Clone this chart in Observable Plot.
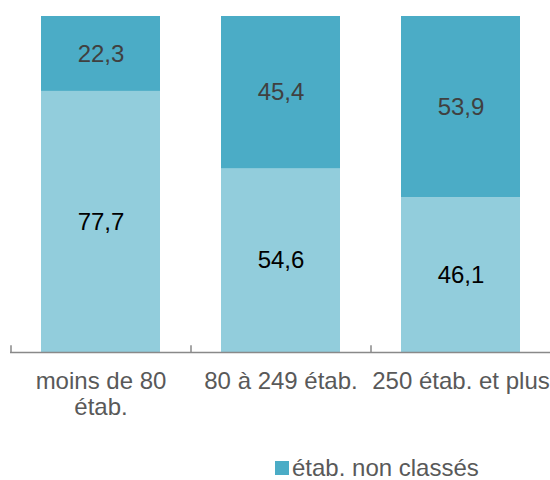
<!DOCTYPE html>
<html>
<head>
<meta charset="utf-8">
<script src="https://cdn.jsdelivr.net/npm/d3@7"></script>
<script src="https://cdn.jsdelivr.net/npm/@observablehq/plot@0.6"></script>
<style>
  body { margin: 0; background: #fff; font-family: "Liberation Sans", Arial, sans-serif; }
  #chart { width: 550px; }
  .legend { display: flex; align-items: center; margin-left: 275px; margin-top: 26px; font-size: 24px; line-height: 20px; color: #595959; }
  .legend .sw { width: 14px; height: 14px; background: #4BACC6; margin-right: 3px; }
</style>
</head>
<body>
<div id="chart"></div>
<script>
const categories = ["moins de 80 étab.", "80 à 249 étab.", "250 étab. et plus"];
const tickLabels = ["moins de 80\nétab.", "80 à 249 étab.", "250 étab. et plus"];
const series = ["étab. classés", "étab. non classés"];
const classes = [77.7, 54.6, 46.1];
const nonClasses = [22.3, 45.4, 53.9];
const colors = ["#92CDDC", "#4BACC6"];
const textColors = ["#000000", "#404040"];

const data = [];
categories.forEach((c, i) => {
  data.push({cat: c, series: series[0], value: classes[i]});
  data.push({cat: c, series: series[1], value: nonClasses[i]});
});

const H = 432;
const plot = Plot.plot({
  width: 550,
  height: H,
  marginTop: 16,
  marginBottom: H - 352,
  marginLeft: 10,
  marginRight: 0,
  style: {fontFamily: "'Liberation Sans', Arial, sans-serif", background: "#fff"},
  x: {domain: categories, paddingInner: 0.34, paddingOuter: 0.17},
  y: {domain: [0, 100], axis: null},
  color: {domain: series, range: colors},
  marks: [
    Plot.barY(data, {x: "cat", y: "value", fill: "series", order: series}),
    Plot.text(data, Plot.stackY({
      x: "cat", y: "value", z: "series", order: series,
      text: d => d.value.toFixed(1).replace(".", ","),
      fill: d => textColors[series.indexOf(d.series)],
      fontSize: 24
    })),
    Plot.ruleY([0], {stroke: "#898989", strokeWidth: 1.5}),
    Plot.ruleX(categories, {x: d => d, dx: -90, y1: 0, y2: 2, stroke: "#898989", strokeWidth: 1.5}),
    Plot.ruleX(categories.slice(-1), {x: d => d, dx: 90, y1: 0, y2: 2, stroke: "#898989", strokeWidth: 1.5}),
    Plot.axisX({
      tickSize: 0, tickPadding: 19, fontSize: 24, lineHeight: 1.05, color: "#595959",
      tickFormat: d => tickLabels[categories.indexOf(d)],
      label: null
    })
  ]
});
document.getElementById("chart").appendChild(plot);

const legend = document.createElement("div");
legend.className = "legend";
legend.innerHTML = `<span class="sw"></span><span>${series[1]}</span>`;
document.getElementById("chart").appendChild(legend);
</script>
</body>
</html>
